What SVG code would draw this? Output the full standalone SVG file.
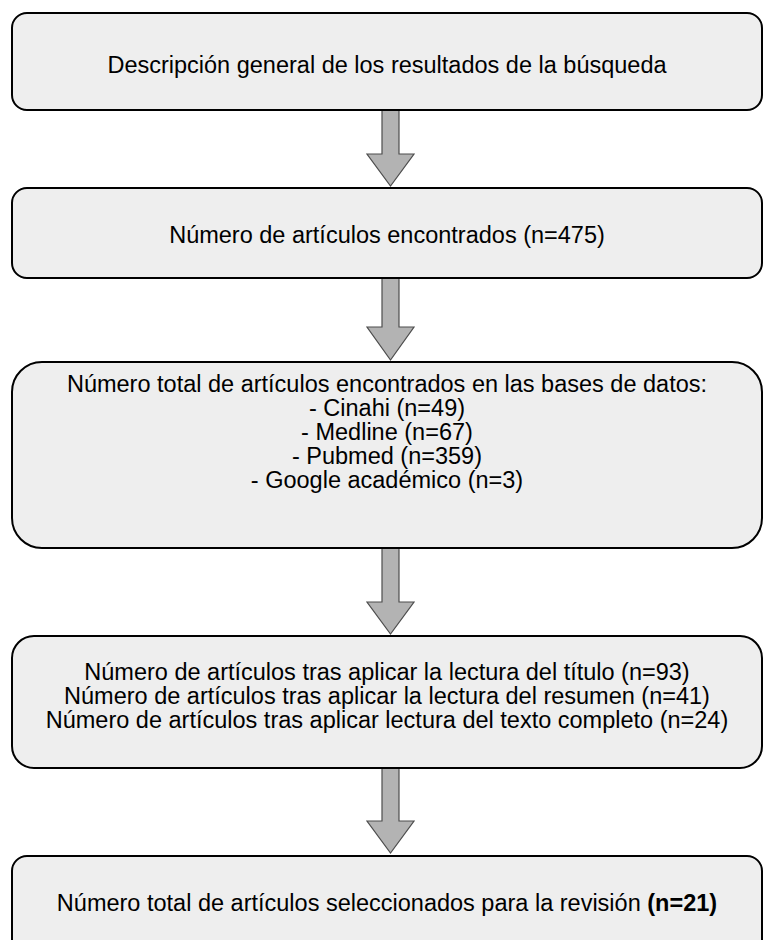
<svg xmlns="http://www.w3.org/2000/svg" width="764" height="940" viewBox="0 0 764 940">
<style>
.box{fill:#eeeeee;stroke:#000000;stroke-width:2}
.arrow{fill:#b3b3b3;stroke:#4d4d4d;stroke-width:1.2;stroke-linejoin:miter}
text{font-family:"Liberation Sans",Arial,sans-serif;font-size:23.5px;fill:#000000;text-anchor:middle}
</style>
<rect x="0" y="0" width="764" height="940" fill="#ffffff"/>
<g id="connectors">
<path class="arrow" d="M382,110 L399,110 L399,154 L414,154 L390.5,186 L367,154 L382,154 Z"/>
<path class="arrow" d="M382,278 L399,278 L399,327 L414,327 L390.5,360 L367,327 L382,327 Z"/>
<path class="arrow" d="M382,548 L399,548 L399,602 L414,602 L390.5,634 L367,602 L382,602 Z"/>
<path class="arrow" d="M382,768 L399,768 L399,821 L414,821 L390.5,853 L367,821 L382,821 Z"/>
</g>
<g id="node1">
<rect class="box" x="12" y="13" width="750" height="97" rx="15" ry="15"/>
<text x="387" y="73">Descripción general de los resultados de la búsqueda</text>
</g>
<g id="node2">
<rect class="box" x="12" y="188" width="750" height="90" rx="15" ry="15"/>
<text x="387" y="243">Número de artículos encontrados (n=475)</text>
</g>
<g id="node3">
<rect class="box" x="12" y="362" width="750" height="186" rx="30" ry="30"/>
<text x="387" y="392">Número total de artículos encontrados en las bases de datos:</text>
<text x="387" y="416">- Cinahi (n=49)</text>
<text x="387" y="440">- Medline (n=67)</text>
<text x="387" y="464">- Pubmed (n=359)</text>
<text x="387" y="488">- Google académico (n=3)</text>
</g>
<g id="node4">
<rect class="box" x="12" y="636" width="750" height="132" rx="22" ry="22"/>
<text x="387" y="680">Número de artículos tras aplicar la lectura del título (n=93)</text>
<text x="387" y="704">Número de artículos tras aplicar la lectura del resumen (n=41)</text>
<text x="387" y="728">Número de artículos tras aplicar lectura del texto completo (n=24)</text>
</g>
<g id="node5">
<rect class="box" x="12" y="856" width="750" height="100" rx="15" ry="15"/>
<text x="387" y="911">Número total de artículos seleccionados para la revisión <tspan font-weight="bold">(n=21)</tspan></text>
</g>
</svg>
